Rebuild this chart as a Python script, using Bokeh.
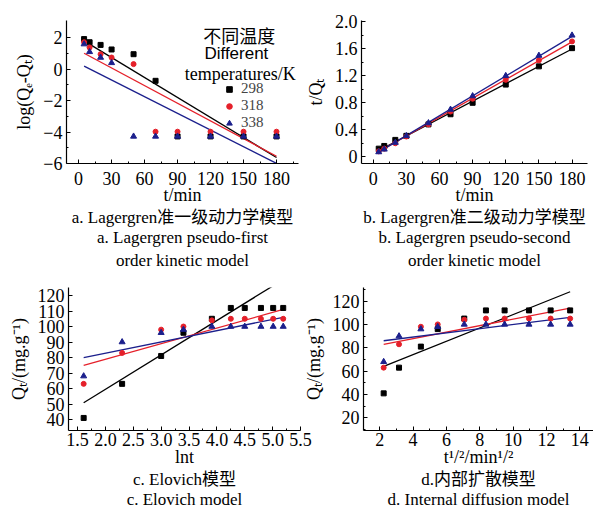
from bokeh.plotting import figure
from bokeh.models import FixedTicker, Title, Legend, LegendItem, Label, Range1d, CustomJSTickFormatter
from bokeh.layouts import row, column
from bokeh.embed import file_html
from bokeh.resources import INLINE

# ---------------- data ----------------
t_min = [5, 10, 20, 30, 50, 70, 90, 120, 150, 180]
ln_t = [1.61, 2.30, 3.00, 3.40, 3.91, 4.25, 4.50, 4.79, 5.01, 5.19]
sqrt_t = [2.24, 3.16, 4.47, 5.48, 7.07, 8.37, 9.49, 10.95, 12.25, 13.42]

temps = ["298", "318", "338"]

# a. log(Qe-Qt)
log_q298 = [1.90, 1.70, 1.53, 1.24, 0.94, -0.75, -4.28, -4.28, -4.28, -4.28]
log_q318 = [1.70, 1.37, 0.94, 0.73, 0.31, -3.98, -3.98, -3.98, -3.98, -3.98]
log_q338 = [1.58, 1.09, 0.73, 0.39, -4.28, -4.28, -4.28, -4.28, -4.28, -4.28]
fit_a = {"298": (-0.04234, 2.00), "318": (-0.0374, 1.19), "338": (-0.0353, 0.36)}

# b. t/Qt
tq298 = [0.12, 0.16, 0.25, 0.31, 0.48, 0.63, 0.80, 1.07, 1.34, 1.61]
tq318 = [0.08, 0.12, 0.20, 0.30, 0.48, 0.67, 0.86, 1.14, 1.43, 1.71]
tq338 = [0.07, 0.11, 0.21, 0.31, 0.50, 0.70, 0.90, 1.20, 1.50, 1.80]
fit_b = {"298": (0.0086, 0.05), "318": (0.0093, 0.03), "338": (0.0098, 0.02)}

# c/d. Qt (mg/g)
q298 = [41, 63, 81, 96, 105, 112, 112, 112, 112, 112]
q318 = [63, 83, 98, 100, 104, 105, 105, 105, 105, 105]
q338 = [68, 90, 96, 98, 100, 100, 100, 100, 100, 100]
fit_c = {"298": (22.2, 15.1), "318": (10.06, 58.8), "338": (7.26, 68.3)}
fit_d = {"298": (5.72, 51.2), "318": (2.77, 76.8), "338": (1.79, 82.0)}

captions_a = ["a. Lagergren准一级动力学模型", "a. Lagergren pseudo-first", "order kinetic model"]
captions_b = ["b. Lagergren准二级动力学模型", "b. Lagergren pseudo-second", "order kinetic model"]
captions_c = ["c. Elovich模型", "c. Elovich model"]
captions_d = ["d.内部扩散模型", "d. Internal diffusion model"]

# ---------------- style ----------------
COL = {"298": "#000000", "318": "#e5202a", "338": "#1b1f8c"}
MARK = {"298": "square", "318": "circle", "338": "triangle"}
MSIZE = {"298": 5, "318": 5, "338": 6}
SERIF = "Liberation Serif"
CAPFONT = "Liberation Serif, Noto Sans CJK SC"
FS = "18px"


def make_fig(w, h, xr, yr, bl, bt, bb, br, lab_so, axl_so, **kw):
    p = figure(width=w, height=h, x_range=Range1d(*xr), y_range=Range1d(*yr),
               output_backend="svg", toolbar_location=None,
               min_border_left=bl, min_border_top=bt, min_border_bottom=bb, min_border_right=br, **kw)
    p.outline_line_color = None
    p.xgrid.visible = False
    p.ygrid.visible = False
    for ax in (p.xaxis[0], p.yaxis[0]):
        ax.axis_line_color = "black"
        ax.axis_line_width = 1.2
        ax.major_tick_in = 4
        ax.major_tick_out = 0
        ax.minor_tick_in = 2
        ax.minor_tick_out = 0
        ax.major_tick_line_color = "black"
        ax.minor_tick_line_color = "black"
        ax.major_label_text_font = SERIF
        ax.major_label_text_font_size = FS
        ax.major_label_text_color = "black"
        ax.axis_label_text_font = SERIF
        ax.axis_label_text_font_size = FS
        ax.axis_label_text_font_style = "normal"
        ax.axis_label_text_color = "black"
    p.xaxis[0].major_label_standoff = lab_so
    p.yaxis[0].major_label_standoff = 4
    p.xaxis[0].axis_label_standoff = axl_so
    p.yaxis[0].axis_label_standoff = 6
    return p


def add_captions(p, lines, offsets, standoffs):
    for txt, off, so in zip(lines, offsets, standoffs):
        p.add_layout(Title(text=txt, align="center", offset=off, standoff=so,
                           text_font=CAPFONT, text_font_size="17px",
                           text_font_style="normal", text_color="black"), "below")


def add_series(p, xs, ys_by_temp, fits, x0, x1):
    renderers = {}
    for k in temps:
        m, b = fits[k]
        p.line([x0, x1], [m * x0 + b, m * x1 + b], line_color=COL[k], line_width=1.3)
    for k in temps:
        r = p.scatter(xs, ys_by_temp[k], marker=MARK[k], size=MSIZE[k],
                      fill_color=COL[k], line_color=COL[k])
        renderers[k] = r
    return renderers


minus_fmt = CustomJSTickFormatter(code="return tick < 0 ? '\\u2212' + Math.abs(tick) : String(tick);")
one_dec_zero = CustomJSTickFormatter(code="return tick == 0 ? '0' : tick.toFixed(1);")
one_dec = CustomJSTickFormatter(code="return tick.toFixed(1);")

# ---------------- panel a ----------------
pa = make_fig(300, 274, (-11, 200), (-6, 3.08), 66, 20, 111, 2, 8, -3)
pa.xaxis[0].ticker = FixedTicker(ticks=[0, 30, 60, 90, 120, 150, 180],
                                 minor_ticks=[15, 45, 75, 105, 135, 165, 195])
pa.yaxis[0].ticker = FixedTicker(ticks=[-6, -4, -2, 0, 2], minor_ticks=[-5, -3, -1, 1])
pa.yaxis[0].formatter = minus_fmt
pa.xaxis[0].axis_label = "t/min"
pa.yaxis[0].axis_label = "log(Qₑ-Qₜ)"
ra = add_series(pa, t_min, {"298": log_q298, "318": log_q318, "338": log_q338}, fit_a, 5, 180)
for k, ly in zip(temps, [66, 49, 32]):
    pa.add_layout(Legend(items=[LegendItem(label=k, renderers=[ra[k]])],
                         location=(156, ly), padding=0, margin=0, spacing=0,
                         label_height=14, glyph_height=14, glyph_width=14, label_standoff=5,
                         label_text_font=SERIF, label_text_font_size="15px",
                         background_fill_alpha=0, border_line_color=None))
pa.add_layout(Label(x=146, y=2.13, text="不同温度", text_align="center", text_baseline="middle",
                    text_font="Noto Sans CJK SC", text_font_size="18px", text_color="black"))
pa.add_layout(Label(x=143.5, y=0.98, text="Different", text_align="center", text_baseline="middle",
                    text_font="Liberation Sans", text_font_size="17px", text_color="black"))
pa.add_layout(Label(x=147, y=-0.29, text="temperatures/K", text_align="center", text_baseline="middle",
                    text_font=SERIF, text_font_size="18px", text_color="black"))
add_captions(pa, captions_a, [0, 2, -2], [-4, 2, 3])

# ---------------- panel b ----------------
pb = make_fig(293, 274, (-10.6, 194), (-0.1, 2.02), 61, 19, 111, 6, 8, -3)
pb.xaxis[0].ticker = FixedTicker(ticks=[0, 30, 60, 90, 120, 150, 180],
                                 minor_ticks=[15, 45, 75, 105, 135, 165, 195])
pb.yaxis[0].ticker = FixedTicker(ticks=[0, 0.4, 0.8, 1.2, 1.6, 2.0],
                                 minor_ticks=[0.2, 0.6, 1.0, 1.4, 1.8])
pb.yaxis[0].formatter = one_dec_zero
pb.xaxis[0].axis_label = "t/min"
pb.yaxis[0].axis_label = "t/Qₜ"
add_series(pb, t_min, {"298": tq298, "318": tq318, "338": tq338}, fit_b, 5, 180)
add_captions(pb, captions_b, [-20, -12, -11], [-4, 2, 3])

# ---------------- panel c ----------------
pc = make_fig(312, 240, (1.338, 5.5), (32.9, 125.2), 68, 11, 83, 12, 2, -2)
pc.xaxis[0].ticker = FixedTicker(ticks=[1.5, 2.0, 2.5, 3.0, 3.5, 4.0, 4.5, 5.0, 5.5],
                                 minor_ticks=[1.75, 2.25, 2.75, 3.25, 3.75, 4.25, 4.75, 5.25])
pc.yaxis[0].ticker = FixedTicker(ticks=[40, 50, 60, 70, 80, 90, 100, 110, 120], minor_ticks=[])
pc.xaxis[0].formatter = one_dec
pc.xaxis[0].axis_label = "lnt"
pc.yaxis[0].axis_label = "Qₜ/(mg.g⁻¹)"
add_series(pc, ln_t, {"298": q298, "318": q318, "338": q338}, fit_c, 1.61, 5.19)
add_captions(pc, captions_c, [0, 1], [-3, 1])

# ---------------- panel d (overlaps c's right border, transparent border) ----------------
pd_ = make_fig(293, 240, (1.03, 14.82), (9.2, 131.6), 61, 13, 84, 0, 2, -2,
               margin=(0, 0, 0, -12))
pd_.border_fill_alpha = 0
pd_.xaxis[0].ticker = FixedTicker(ticks=[2, 4, 6, 8, 10, 12, 14], minor_ticks=[1, 3, 5, 7, 9, 11, 13])
pd_.yaxis[0].ticker = FixedTicker(ticks=[20, 40, 60, 80, 100, 120],
                                  minor_ticks=[10, 30, 50, 70, 90, 110, 130])
pd_.xaxis[0].axis_label = "t¹/²/min¹/²"
pd_.yaxis[0].axis_label = "Qₜ/(mg.g⁻¹)"
add_series(pd_, sqrt_t, {"298": q298, "318": q318, "338": q338}, fit_d, 2.24, 13.42)
add_captions(pd_, captions_d, [-12, -12], [-3, 1])

layout = column(row(pa, pb), row(pc, pd_))
open("out.html", "w").write(file_html(layout, INLINE))
